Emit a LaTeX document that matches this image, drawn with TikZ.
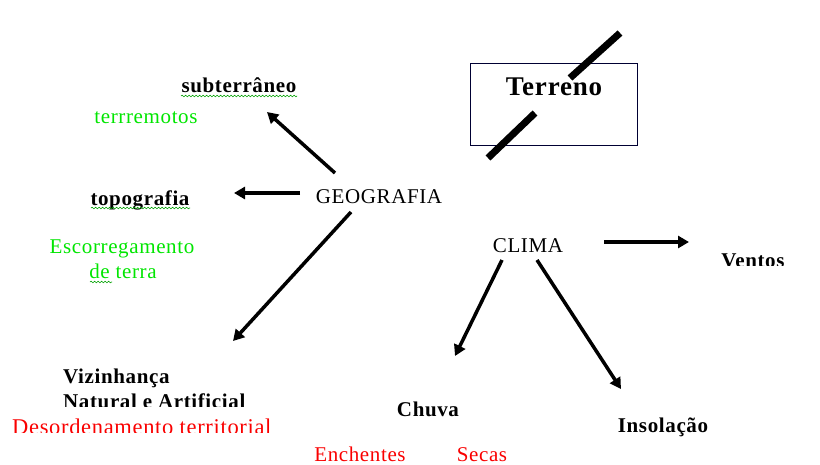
\documentclass[tikz,border=0pt]{standalone}
\usepackage{fontspec}
\setmainfont{Liberation Serif}[LetterSpace=3]
\usetikzlibrary{arrows.meta,decorations.pathmorphing}
\definecolor{lgreen}{RGB}{0,230,0}
\definecolor{tred}{RGB}{250,0,0}
\tikzset{
  x=1pt,y=-1pt,
  txt/.style={inner sep=0pt,anchor=base,font=\fontsize{21}{23}\selectfont},
  btxt/.style={txt,font=\fontsize{21}{23}\selectfont\bfseries},
  gtxt/.style={txt,text=lgreen},
  rtxt/.style={txt,text=tred},
  arr/.style={line width=3.5pt,-{Triangle[length=11pt,width=12pt]}},
  squig/.style={draw=lgreen!70!black,line width=0.6pt,decorate,decoration={snake,amplitude=0.8pt,segment length=3.5pt}},
  slash/.style={line width=7pt}
}
\begin{document}
\begin{tikzpicture}
\useasboundingbox (0,0) rectangle (820,464);
\fill[white] (0,0) rectangle (820,464);
% nodes
\node[btxt] (sub) at (239,92) {subterrâneo};
\node[gtxt] (terr) at (146,123) {terrremotos};
\node[btxt] (topo) at (140,205) {topografia};
\node[gtxt] (esc) at (122,253) {Escorregamento};
\node[gtxt] (de) at (123,278) {de terra};
\node[txt] (geo) at (379,203) {GEOGRAFIA};
\node[txt] (clima) at (528,252) {CLIMA};
\begin{scope}
\clip (0,0) rectangle (820,265);
\node[btxt] (ventos) at (753,267) {Ventos};
\end{scope}
\node[btxt,anchor=base west] (viz) at (63,383) {Vizinhança};
\begin{scope}
\clip (0,0) rectangle (820,406);
\node[btxt,anchor=base west] (nat) at (63,408) {Natural e Artificial};
\end{scope}
\begin{scope}
\clip (0,0) rectangle (820,432);
\node[rtxt,anchor=base west,font=\fontsize{22.5}{24}\selectfont] (des) at (12,434) {Desordenamento territorial};
\end{scope}
\node[btxt] (chuva) at (428,416) {Chuva};
\node[btxt] (ins) at (663,432) {Insolação};
\node[rtxt] (ench) at (360,461) {Enchentes};
\node[rtxt] (secas) at (482,461) {Secas};
% Terreno box
\node[draw=black!80!blue,line width=0.8pt,minimum width=167pt,minimum height=82pt,inner sep=0pt] (box) at (553.5,104) {};
\node[inner sep=0pt,anchor=base,font=\fontsize{27}{29}\selectfont\bfseries] (terreno) at (554,95) {Terreno};
\draw[slash] (570,78) -- (620,33);
\draw[slash] (535,113) -- (488,158);
% squiggles
\draw[squig] (181,96) -- (297,96);
\draw[squig] (91,208) -- (190,208);
\draw[squig] (90,282) -- (112,282);
% connector ends
\coordinate (g1) at (335,173);
\coordinate (s1) at (267,112);
\coordinate (g2) at (300,193);
\coordinate (t2) at (234,193);
\coordinate (g3) at (351,212);
\coordinate (v3) at (233,341);
\coordinate (c1) at (604,242);
\coordinate (w1) at (689,242);
\coordinate (c2) at (502,260);
\coordinate (h2) at (455,356);
\coordinate (c3) at (537,260);
\coordinate (i3) at (621,389);
\draw[arr] (g1) -- (s1);
\draw[arr] (g2) -- (t2);
\draw[arr] (g3) -- (v3);
\draw[arr] (c1) -- (w1);
\draw[arr] (c2) -- (h2);
\draw[arr] (c3) -- (i3);
\end{tikzpicture}
\end{document}
